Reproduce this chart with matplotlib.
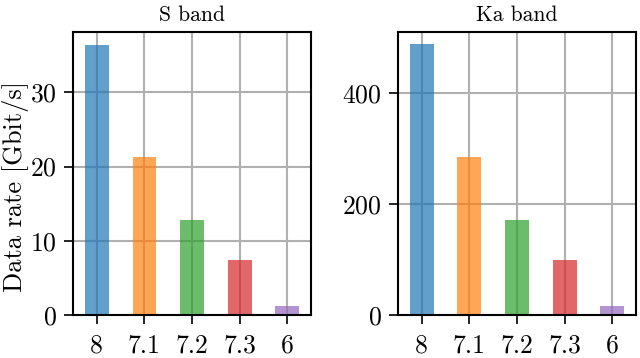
import matplotlib
matplotlib.use("Agg")
import matplotlib.pyplot as plt

# data
versions = ['8', '7.1', '7.2', '7.3', '6']
s_band = [36.4, 21.3, 12.8, 7.4, 1.2]
ka_band = [487, 284, 171, 99, 16]
colours = ['tab:blue', 'tab:orange', 'tab:green', 'tab:red', 'tab:purple']

plt.rcParams['font.family'] = 'cmr10'
plt.rcParams['mathtext.fontset'] = 'cm'
plt.rcParams['axes.formatter.use_mathtext'] = True
plt.rcParams['axes.linewidth'] = 1.5

fig, (ax1, ax2) = plt.subplots(1, 2, figsize=(6.4, 3.58), dpi=100)

x = list(range(len(versions)))
for ax, vals, title in [(ax1, s_band, 'S band'), (ax2, ka_band, 'Ka band')]:
    ax.set_axisbelow(True)
    ax.grid(True, color='#b0b0b0', linewidth=1.5)
    ax.bar(x, vals, width=0.5, color=colours, alpha=0.7)
    ax.set_xticks(x)
    ax.set_xticklabels(versions)
    ax.set_xlim(-0.5, 4.5)
    ax.set_title(title, fontsize=15.5, pad=8)
    ax.tick_params(axis='both', labelsize=18.5, width=1.2, length=6.5)
    ax.tick_params(axis='y', pad=5)
    ax.tick_params(axis='x', pad=7)

ax1.set_ylim(0, 38.1)
ax1.set_yticks([0, 10, 20, 30])
ax2.set_ylim(0, 509)
ax2.set_yticks([0, 200, 400])
ax1.set_ylabel('Data rate [Gbit/s]', fontsize=19)
ax1.yaxis.set_label_coords(-0.185, 0.455)

fig.subplots_adjust(left=0.114, right=0.994, bottom=0.12, top=0.91, wspace=0.364)
fig.savefig('out.png', dpi=100)
